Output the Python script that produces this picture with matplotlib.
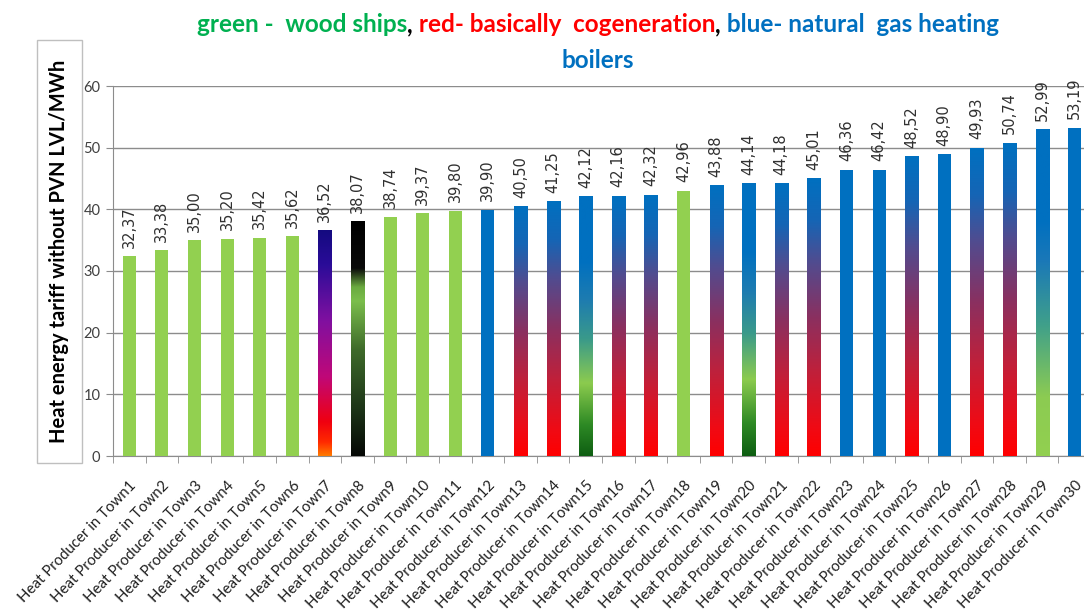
import numpy as np
import matplotlib
matplotlib.use("Agg")
import matplotlib.pyplot as plt
from matplotlib.colors import LinearSegmentedColormap
from matplotlib.patches import Rectangle
from matplotlib.offsetbox import TextArea, HPacker, AnchoredOffsetbox

# ---- data ----
towns = [f"Heat Producer in Town{i}" for i in range(1, 31)]
tariff = [32.37, 33.38, 35.00, 35.20, 35.42, 35.62, 36.52, 38.07, 38.74, 39.37,
          39.80, 39.90, 40.50, 41.25, 42.12, 42.16, 42.32, 42.96, 43.88, 44.14,
          44.18, 45.01, 46.36, 46.42, 48.52, 48.90, 49.93, 50.74, 52.99, 53.19]
fill_kind = (["wood"] * 6 + ["violet", "black"] + ["wood"] * 3 +
             ["gas", "cogen", "cogen", "greengas", "cogen", "cogen", "wood",
              "cogen", "greengas", "cogen", "cogen", "gas", "gas", "cogen",
              "gas", "cogen", "cogen", "lightgreengas", "gas"])
yticks = [0, 10, 20, 30, 40, 50, 60]

GREEN = "#92D050"
BLUE = "#0070C0"

# gradient stops, bottom -> top (fraction of bar height)
gradients = {
    "cogen": [(0, "#FF0000"), (0.1, "#F00A14"), (0.3, "#C0203A"), (0.5, "#8A3060"),
              (0.7, "#504C90"), (0.85, "#1565B5"), (1, BLUE)],
    "greengas": [(0, "#0E5E12"), (0.12, "#2E8A25"), (0.28, "#8CCB4E"), (0.45, "#3A9A8A"),
                 (0.6, "#1E7CB0"), (0.75, BLUE), (1, BLUE)],
    "lightgreengas": [(0, GREEN), (0.18, "#8CCB52"), (0.4, "#40A08A"), (0.6, "#1A78B8"),
                      (0.72, BLUE), (1, BLUE)],
    "violet": [(0, "#FF7A00"), (0.06, "#FF2A00"), (0.15, "#F00010"), (0.35, "#C00878"),
               (0.6, "#8010A0"), (0.85, "#2A0C98"), (1, "#140A80")],
    "black": [(0, "#050805"), (0.2, "#1D3518"), (0.45, "#3E6A2A"), (0.66, "#7BBE4C"),
              (0.72, "#6AAA40"), (0.8, "#0A0A0A"), (1, "#000000")],
}

W, H = 1084, 609
fig = plt.figure(figsize=(W / 100, H / 100), dpi=100)
fig.patch.set_facecolor("white")

# axes area: y-axis at x=113px, 0 at y=456px, 60 at y=86px, 30 slots of ~32.6px
ax = fig.add_axes([113 / W, (H - 456) / H, (30 * 32.6) / W, 370 / H])

bar_w = 0.4
x = np.arange(len(tariff))
for i, (v, kind) in enumerate(zip(tariff, fill_kind)):
    if kind == "wood":
        ax.bar(i, v, bar_w, color=GREEN, zorder=3)
    elif kind == "gas":
        ax.bar(i, v, bar_w, color=BLUE, zorder=3)
    else:
        cmap = LinearSegmentedColormap.from_list(kind, gradients[kind])
        grad = np.linspace(0, 1, 256).reshape(-1, 1)
        ax.imshow(grad, cmap=cmap, extent=[i - bar_w / 2, i + bar_w / 2, 0, v],
                  origin="lower", aspect="auto", interpolation="bilinear", zorder=3)
    ax.text(i, v + 1.4, f"{v:.2f}".replace(".", ","), rotation=90,
            ha="center", va="bottom", fontsize=10.5, color="#303030",
            family="DejaVu Sans", zorder=4)

ax.set_xlim(-0.5, 29.5)
ax.set_ylim(0, 60)
ax.set_aspect("auto")

ax.set_axisbelow(True)
ax.yaxis.grid(True, color="#8c8c8c", linewidth=1)
for s in ("top", "right"):
    ax.spines[s].set_visible(False)
for s in ("left", "bottom"):
    ax.spines[s].set_color("#8c8c8c")

ax.set_yticks(yticks)
ax.set_yticklabels([str(t) for t in yticks], family="Lato", fontsize=10.5, color="#404040")
ax.tick_params(axis="y", length=5, color="#8c8c8c", pad=4)

ax.set_xticks(x)
ax.set_xticklabels(towns, rotation=46, ha="right", rotation_mode="anchor",
                   family="Lato", fontsize=10.8, color="#202020")
ax.tick_params(axis="x", which="major", length=0, pad=16)
ax.set_xticks(np.arange(-0.5, 30, 1), minor=True)
ax.tick_params(axis="x", which="minor", length=5, color="#8c8c8c")

# boxed y label
fig.patches.append(Rectangle((37 / W, (H - 463) / H), 45 / W, 423 / H,
                             transform=fig.transFigure, fill=False,
                             edgecolor="#bfbfbf", linewidth=1))
fig.text(59.5 / W, 1 - 251 / H, "Heat energy tariff without PVN LVL/MWh",
         rotation=90, ha="center", va="center", family="Lato",
         fontweight="bold", fontsize=14.5, color="black")

# multi-coloured title
tprops = dict(family="Lato", fontweight="bold", fontsize=17.5)
segments = [("green -  wood ships", "#00B050"), (",", "black"),
            (" red- basically  cogeneration", "#FF0000"), (",", "black"),
            (" blue- natural  gas heating", BLUE)]
boxes = [TextArea(t, textprops=dict(color=c, **tprops)) for t, c in segments]
line1 = HPacker(children=boxes, align="baseline", pad=0, sep=0)
fig.add_artist(AnchoredOffsetbox(loc="center", child=line1, frameon=False, pad=0,
                                 bbox_to_anchor=(598 / W, 1 - 25 / H),
                                 bbox_transform=fig.transFigure, borderpad=0))
fig.text(598 / W, 1 - 60 / H, "boilers", ha="center", va="center",
         color=BLUE, **tprops)

fig.savefig("out.png", dpi=100)
